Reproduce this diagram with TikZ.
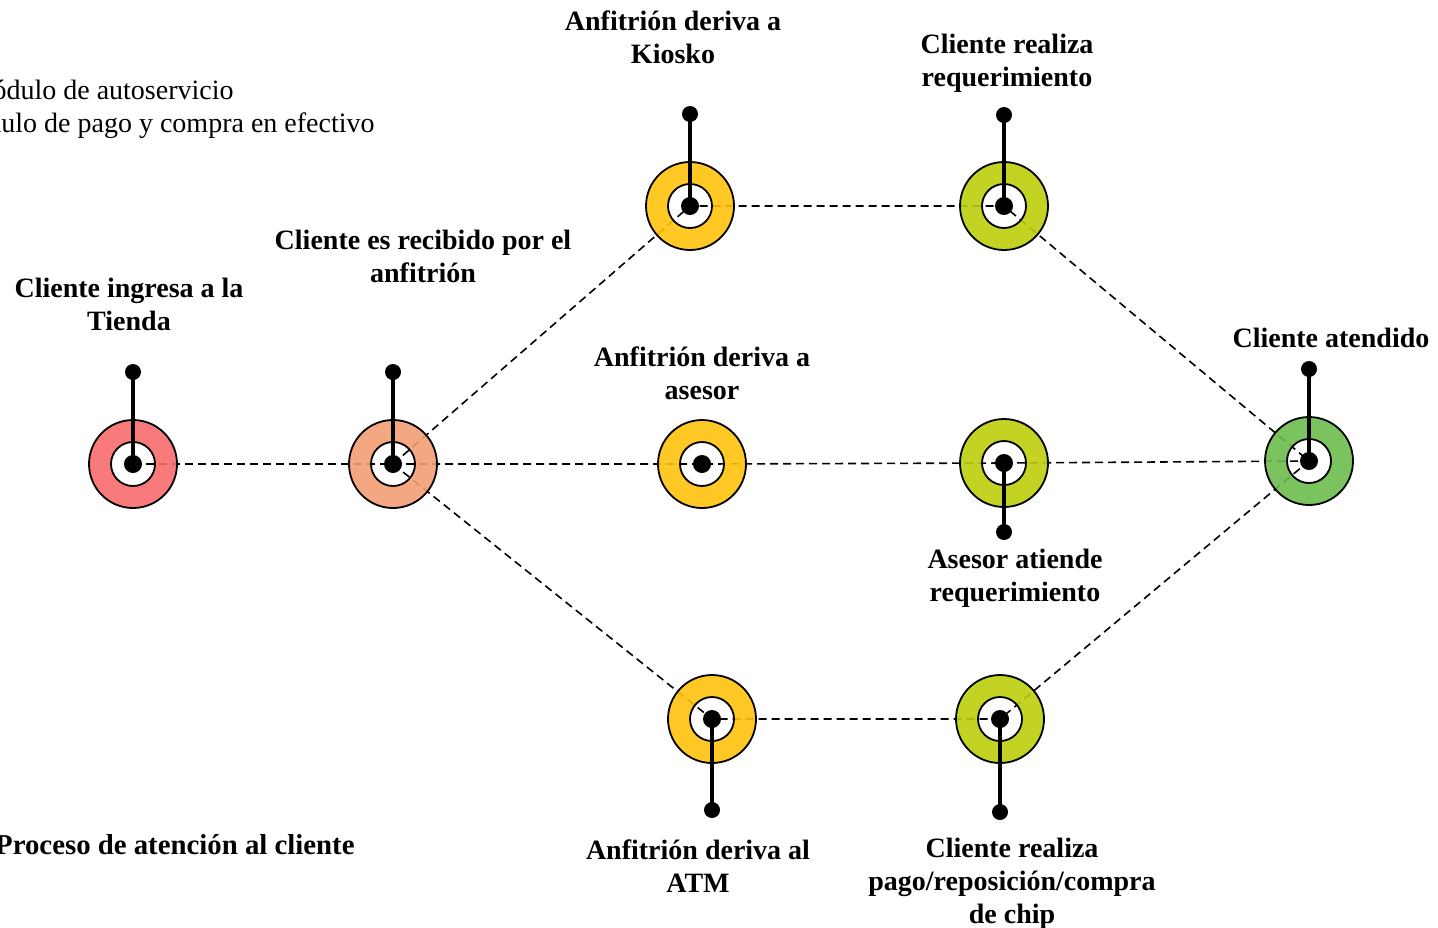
\documentclass[tikz,border=0pt]{standalone}
\usepackage{fontspec}
\setmainfont{Liberation Serif}

\definecolor{ringred}{RGB}{247,108,108}
\definecolor{ringsalmon}{RGB}{243,159,116}
\definecolor{ringyellow}{RGB}{255,194,13}
\definecolor{ringlime}{RGB}{189,206,12}
\definecolor{ringgreen}{RGB}{109,188,78}

\newcommand{\ring}[2]{
	\fill[#2, fill opacity=0.9, even odd rule] (#1) circle (22pt) (#1) circle (11pt);
	\draw[line width=0.9pt] (#1) circle (22pt) (#1) circle (11pt);
	\fill (#1) circle (4.5pt);
}
\newcommand{\pin}[2]{
	\draw[line width=2pt] (#1) -- (#2);
	\fill (#2) circle (4pt);
}

\tikzset{
	dashline/.style={dash pattern=on 4pt off 2.5pt, line width=0.8pt},
	lbl/.style={font=\bfseries\fontsize{14}{16.5}\selectfont, align=center, inner sep=0pt},
	txt/.style={font=\fontsize{14}{16.5}\selectfont, inner sep=0pt}
}

\begin{document}
\begin{tikzpicture}[x=0.5pt, y=-0.5pt]
	\useasboundingbox (0,0) rectangle (1438,927);

	% centres of the stations
	\coordinate (ingresa) at (133,464);
	\coordinate (recibido) at (393,464);
	\coordinate (kiosko) at (690,206);
	\coordinate (reqk) at (1004,206);
	\coordinate (asesor) at (702,464);
	\coordinate (atiende) at (1004,463);
	\coordinate (atendido) at (1309,461);
	\coordinate (atm) at (712,719);
	\coordinate (pago) at (1000,719);

	% dashed paths between stations
	\draw[dashline] (ingresa) -- (recibido);
	\draw[dashline] (recibido) -- (kiosko) -- (reqk) -- (atendido);
	\draw[dashline] (recibido) -- (asesor) -- (atiende) -- (atendido);
	\draw[dashline] (recibido) -- (atm) -- (pago) -- (atendido);

	% rings
	\ring{ingresa}{ringred}
	\ring{recibido}{ringsalmon}
	\ring{kiosko}{ringyellow}
	\ring{asesor}{ringyellow}
	\ring{atm}{ringyellow}
	\ring{reqk}{ringlime}
	\ring{atiende}{ringlime}
	\ring{pago}{ringlime}
	\ring{atendido}{ringgreen}

	% pins
	\coordinate (ingresa-p) at (133,372);
	\coordinate (recibido-p) at (393,372);
	\coordinate (kiosko-p) at (690,114);
	\coordinate (reqk-p) at (1004,115);
	\coordinate (atiende-p) at (1004,532);
	\coordinate (atendido-p) at (1309,369);
	\coordinate (atm-p) at (712,810);
	\coordinate (pago-p) at (1000,812);
	\pin{ingresa}{ingresa-p}
	\pin{recibido}{recibido-p}
	\pin{kiosko}{kiosko-p}
	\pin{reqk}{reqk-p}
	\pin{atiende}{atiende-p}
	\pin{atendido}{atendido-p}
	\pin{atm}{atm-p}
	\pin{pago}{pago-p}

	% labels
	\node[lbl] (ingresa-t) at (129,304) {Cliente ingresa a la\\Tienda};
	\node[lbl] (recibido-t) at (423,256) {Cliente es recibido por el\\anfitrión};
	\node[lbl] (kiosko-t) at (673,37) {Anfitrión deriva a\\Kiosko};
	\node[lbl] (reqk-t) at (1007,63) {Cliente realiza\\requerimiento};
	\node[lbl] (asesor-t) at (702,373) {Anfitrión deriva a\\asesor};
	\node[lbl] (atiende-t) at (1015,578) {Asesor atiende\\requerimiento};
	\node[lbl] (atendido-t) at (1331,338) {Cliente atendido};
	\node[lbl] (atm-t) at (698,866) {Anfitrión deriva al\\ATM};
	\node[lbl] (pago-t) at (1012,884) {Cliente realiza\\pago/reposición/compra\\de chip};

	% legend and title, cut at the left edge
	\node[txt, anchor=east] (modulo-a) at (234,90) {Módulo de autoservicio};
	\node[txt, anchor=east] (modulo-b) at (375,126) {Módulo de pago y compra en efectivo};
	\node[lbl, anchor=east, font=\bfseries\fontsize{14.4}{16.5}\selectfont] (proceso) at (355,845) {Proceso de atención al cliente};
\end{tikzpicture}
\end{document}
